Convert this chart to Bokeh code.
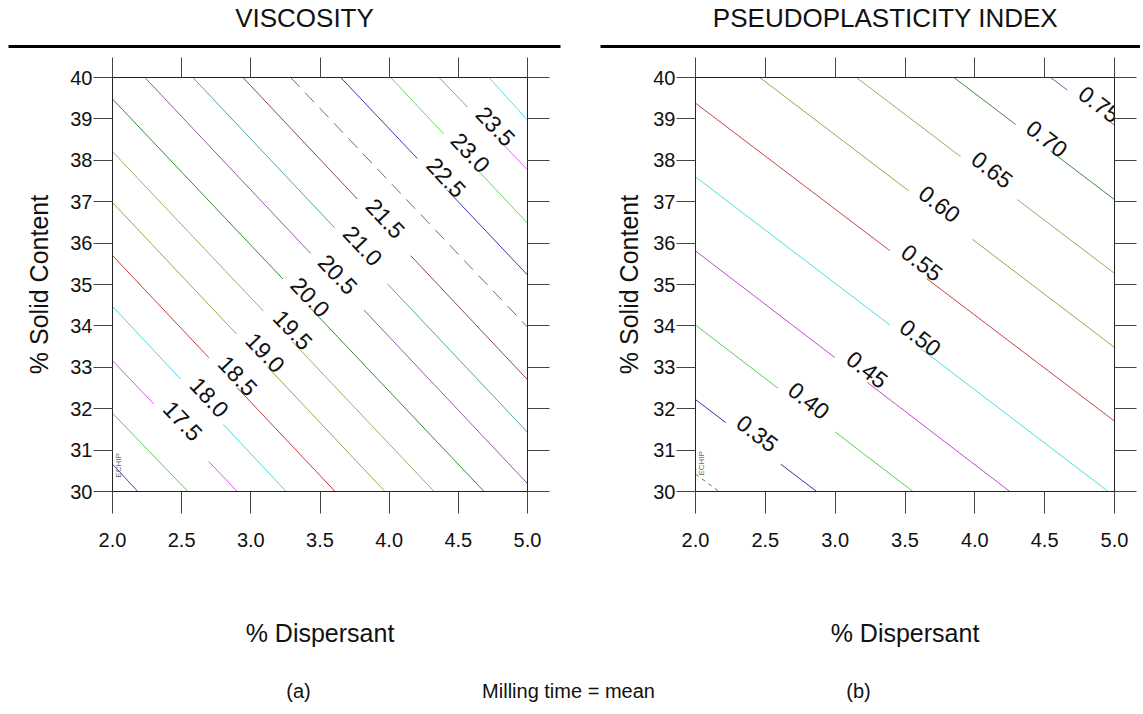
import math
from bokeh.plotting import figure
from bokeh.models import (Range1d, FixedTicker, LinearAxis, PrintfTickFormatter,
                          ColumnDataSource, LabelSet)
from bokeh.layouts import row, column
from bokeh.embed import file_html
from bokeh.resources import INLINE
from bokeh.core.properties import value

FONT = "Liberation Sans"

# ---------------- data ----------------
X_TICKS = [2.0, 2.5, 3.0, 3.5, 4.0, 4.5, 5.0]
Y_TICKS = [30, 31, 32, 33, 34, 35, 36, 37, 38, 39, 40]

TITLE_LEFT = "VISCOSITY"
TITLE_RIGHT = "PSEUDOPLASTICITY INDEX"
X_LABEL = "% Dispersant"
Y_LABEL = "% Solid Content"
FOOT_TEXTS = ["(a)", "Milling time = mean", "(b)"]
STAMP = "ECHIP"

# Viscosity contour lines (end points where each level meets the frame)
VISC_LEVELS = [16.5, 17.0, 17.5, 18.0, 18.5, 19.0, 19.5, 20.0,
               20.5, 21.0, 21.5, 22.0, 22.5, 23.0, 23.5, 24.0]
VISC_X_START = [2.0, 2.0, 2.0, 2.0, 2.0, 2.0, 2.0, 2.0,
                2.234, 2.581, 2.943, 3.288, 3.650, 4.011, 4.361, 4.722]
VISC_Y_START = [30.66, 31.89, 33.16, 34.47, 35.70, 36.98, 38.21, 39.48,
                40, 40, 40, 40, 40, 40, 40, 40]
VISC_X_END = [2.183, 2.545, 2.902, 3.256, 3.609, 3.970, 4.325, 4.686,
              5, 5, 5, 5, 5, 5, 5, 5]
VISC_Y_END = [30, 30, 30, 30, 30, 30, 30, 30,
              30.19, 31.43, 32.70, 33.97, 35.23, 36.48, 37.77, 38.97]
VISC_GAP_START = [None, None, 2.297, 2.492, 2.697, 2.897, 3.090, 3.232,
                  3.432, 3.606, 3.770, None, 4.204, 4.393, 4.566, None]
VISC_GAP_END = [None, None, 2.695, 2.801, 2.902, 3.119, 3.300, 3.432,
                3.818, 3.987, 4.156, None, 4.421, 4.639, 4.783, None]
VISC_LABEL_X = [None, None, 2.510, 2.703, 2.908, 3.107, 3.306, 3.432,
                3.631, 3.812, 3.975, None, 4.415, 4.590, 4.771, None]
VISC_LABEL_Y = [None, None, 31.71, 32.28, 32.80, 33.36, 33.91, 34.70,
                35.25, 35.94, 36.60, None, 37.59, 38.19, 38.83, None]

# Pseudoplasticity index contour lines
PSEUDO_LEVELS = [0.30, 0.35, 0.40, 0.45, 0.50, 0.55, 0.60, 0.65, 0.70, 0.75]
PSEUDO_X_START = [2.0, 2.0, 2.0, 2.0, 2.0, 2.0, 2.460, 3.152, 3.850, 4.542]
PSEUDO_Y_START = [30.42, 32.22, 34.02, 35.81, 37.60, 39.38, 40, 40, 40, 40]
PSEUDO_X_END = [2.169, 2.868, 3.557, 4.251, 4.955, 5, 5, 5, 5, 5]
PSEUDO_Y_END = [30, 30, 30, 30, 30, 31.70, 33.48, 35.27, 37.05, 38.85]
PSEUDO_GAP_START = [None, 2.217, 2.591, 2.997, 3.392, 3.390, 3.528, 3.898, 4.292, 4.662]
PSEUDO_GAP_END = [None, 2.610, 2.999, 3.231, 3.612, 3.655, 3.982, 4.304, 4.542, 4.923]
PSEUDO_LABEL_X = [None, 2.444, 2.813, 3.231, 3.612, 3.623, 3.749, 4.125, 4.517, 4.893]
PSEUDO_LABEL_Y = [None, 31.41, 32.20, 32.95, 33.72, 35.53, 36.95, 37.78, 38.53, 39.36]

# ---------------- styles ----------------
VISC_COLORS = ["#4a4ab0", "#55d055", "#c862d8", "#45d8e0", "#c83c3c", "#a8a050",
               "#a8a868", "#358a35", "#9a58a8", "#55a5a5", "#8a4a4a", "#6e6e6e",
               "#3a3ab8", "#62dc62", "#d070e0", "#50e0e8"]
VISC_DASHED = [22.0]
PSEUDO_COLORS = ["#6e6e6e", "#3434a8", "#55d055", "#c448d4", "#45e0e0", "#c84444",
                 "#a0a050", "#a4a468", "#408a40", "#9050a0"]
PSEUDO_DASHED = [0.30]

TEXT_COLOR = "#111111"


def build_panel(width, height, bl, br, bt, bb, levels, xs0, ys0, xs1, ys1,
                g0s, g1s, lxs, lys, fmt, colors, dashed, dash_pat,
                stamp_y, ylab_standoff, xlab_standoff):
    p = figure(width=width, height=height, x_range=Range1d(2, 5), y_range=Range1d(30, 40),
               output_backend="svg", toolbar_location=None,
               min_border_left=bl, min_border_right=br, min_border_top=bt,
               min_border_bottom=bb)
    p.grid.visible = False
    p.outline_line_color = "#222222"
    p.background_fill_color = "white"
    p.border_fill_color = "white"

    fw = width - bl - br
    fh = height - bt - bb
    sx = fw / 3.0
    sy = fh / 10.0

    solid = dict(xs=[], ys=[], color=[])
    dash = dict(xs=[], ys=[], color=[])
    labs = dict(x=[], y=[], text=[], angle=[])
    for i, lev in enumerate(levels):
        xa, ya, xb, yb = xs0[i], ys0[i], xs1[i], ys1[i]

        def yat(x):
            return ya + (yb - ya) * (x - xa) / (xb - xa)

        if g0s[i] is None:
            segs = [([xa, xb], [ya, yb])]
        else:
            segs = [([xa, g0s[i]], [ya, yat(g0s[i])]),
                    ([g1s[i], xb], [yat(g1s[i]), yb])]
        target = dash if lev in dashed else solid
        for sxs, sys_ in segs:
            target["xs"].append(sxs)
            target["ys"].append(sys_)
            target["color"].append(colors[i])
        if lxs[i] is not None:
            labs["x"].append(lxs[i])
            labs["y"].append(lys[i])
            labs["text"].append(fmt.format(lev))
            labs["angle"].append(math.atan2((yb - ya) * sy, (xb - xa) * sx))

    p.multi_line(xs="xs", ys="ys", line_color="color", line_width=1,
                 source=ColumnDataSource(solid))
    p.multi_line(xs="xs", ys="ys", line_color="color", line_width=1,
                 line_dash=dash_pat, source=ColumnDataSource(dash))
    p.add_layout(LabelSet(x="x", y="y", text="text", angle="angle",
                          source=ColumnDataSource(labs), text_align="center",
                          text_baseline="middle", text_font=value(FONT),
                          text_font_size="23px", text_color=TEXT_COLOR))

    # small program stamp near the lower-left corner
    p.text(x=[2.0], y=[stamp_y], text=[STAMP], x_offset=6, angle=math.pi / 2,
           text_align="center", text_baseline="middle", text_font=value(FONT),
           text_font_size="8px", text_color="#666666")

    # bottom axis
    xa_ = p.xaxis[0]
    xa_.ticker = FixedTicker(ticks=X_TICKS)
    xa_.formatter = PrintfTickFormatter(format="%.1f")
    xa_.major_tick_out = 22
    xa_.major_tick_in = 0
    xa_.minor_tick_out = 0
    xa_.minor_tick_in = 0
    xa_.axis_line_color = "#222222"
    xa_.major_tick_line_color = "#444444"
    xa_.major_label_text_font = FONT
    xa_.major_label_text_font_size = "20px"
    xa_.major_label_text_color = TEXT_COLOR
    xa_.major_label_standoff = 19
    xa_.axis_label = X_LABEL
    xa_.axis_label_text_font = FONT
    xa_.axis_label_text_font_size = "25px"
    xa_.axis_label_text_font_style = "normal"
    xa_.axis_label_text_color = TEXT_COLOR
    xa_.axis_label_standoff = xlab_standoff

    # left axis
    ya_ = p.yaxis[0]
    ya_.ticker = FixedTicker(ticks=Y_TICKS)
    ya_.formatter = PrintfTickFormatter(format="%d")
    ya_.major_tick_out = 19
    ya_.major_tick_in = 0
    ya_.minor_tick_out = 0
    ya_.minor_tick_in = 0
    ya_.axis_line_color = "#222222"
    ya_.major_tick_line_color = "#444444"
    ya_.major_label_text_font = FONT
    ya_.major_label_text_font_size = "20px"
    ya_.major_label_text_color = TEXT_COLOR
    ya_.major_label_standoff = 1
    ya_.axis_label = Y_LABEL
    ya_.axis_label_text_font = FONT
    ya_.axis_label_text_font_size = "25px"
    ya_.axis_label_text_font_style = "normal"
    ya_.axis_label_text_color = TEXT_COLOR
    ya_.axis_label_standoff = ylab_standoff

    # top and right axes: ticks only
    top = LinearAxis(ticker=FixedTicker(ticks=X_TICKS), major_tick_out=20, major_tick_in=0,
                     minor_tick_out=0, minor_tick_in=0, major_label_text_font_size="0px",
                     major_label_text_color=None, major_label_standoff=0,
                     axis_line_color="#222222", major_tick_line_color="#444444")
    p.add_layout(top, "above")
    right = LinearAxis(ticker=FixedTicker(ticks=Y_TICKS), major_tick_out=22, major_tick_in=0,
                       minor_tick_out=0, minor_tick_in=0, major_label_text_font_size="0px",
                       major_label_text_color=None, major_label_standoff=0,
                       axis_line_color="#222222", major_tick_line_color="#444444")
    p.add_layout(right, "right")
    return p


def build_header(title, width, height, title_cx, rule_x0, rule_x1):
    h = figure(width=width, height=height, x_range=Range1d(0, width), y_range=Range1d(0, height),
               output_backend="svg", toolbar_location=None, min_border=0,
               x_axis_type=None, y_axis_type=None, outline_line_color=None)
    h.grid.visible = False
    h.text(x=[title_cx], y=[height - 17], text=[title], text_align="center",
           text_baseline="middle", text_font=value(FONT), text_font_size="26px",
           text_color=TEXT_COLOR)
    h.segment(x0=[rule_x0], y0=[height - 46], x1=[rule_x1], y1=[height - 46],
              line_color="black", line_width=3)
    return h


def build_footer(width, height):
    f = figure(width=width, height=height, x_range=Range1d(0, width), y_range=Range1d(0, height),
               output_backend="svg", toolbar_location=None, min_border=0,
               x_axis_type=None, y_axis_type=None, outline_line_color=None)
    f.grid.visible = False
    f.text(x=[298, 568, 858], y=[22, 22, 22], text=FOOT_TEXTS, text_align="center",
           text_baseline="alphabetic", text_font=value(FONT), text_font_size="20px",
           text_color=TEXT_COLOR)
    return f


HEADER_H = 52
hL = build_header(TITLE_LEFT, 580, HEADER_H, 304, 8, 560)
hR = build_header(TITLE_RIGHT, 560, HEADER_H, 305, 20, 560)

pL = build_panel(580, 608, 112, 53, 77 - HEADER_H, 169, VISC_LEVELS, VISC_X_START,
                 VISC_Y_START, VISC_X_END, VISC_Y_END, VISC_GAP_START, VISC_GAP_END,
                 VISC_LABEL_X, VISC_LABEL_Y, "{:.1f}", VISC_COLORS, VISC_DASHED, "13 8",
                 30.63, 14, 69)
pR = build_panel(560, 608, 115, 26, 76 - HEADER_H, 163, PSEUDO_LEVELS, PSEUDO_X_START,
                 PSEUDO_Y_START, PSEUDO_X_END, PSEUDO_Y_END, PSEUDO_GAP_START, PSEUDO_GAP_END,
                 PSEUDO_LABEL_X, PSEUDO_LABEL_Y, "{:.2f}", PSEUDO_COLORS, PSEUDO_DASHED, "4 4",
                 30.68, 7, 69)

foot = build_footer(1140, 52)

layout = column(row(hL, hR, spacing=0), row(pL, pR, spacing=0), foot, spacing=0)

open("out.html", "w").write(file_html(layout, INLINE))
